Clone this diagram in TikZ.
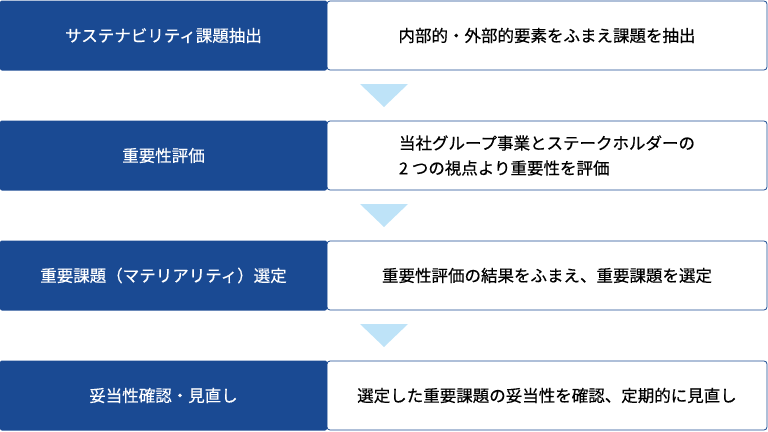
\documentclass[tikz,border=0pt]{standalone}
\usepackage{fontspec}
\setmainfont[FakeBold=0.5]{Noto Sans CJK JP}
\usetikzlibrary{positioning,calc}

\definecolor{stepblue}{RGB}{26,74,147}
\definecolor{arrowblue}{RGB}{190,227,248}

\begin{document}
\begin{tikzpicture}[x=1pt, y=-1pt,
  head/.style={fill=stepblue, text=white, rounded corners=2pt, minimum width=327pt, minimum height=70pt, inner sep=0pt, font=\fontsize{16.5}{25}\selectfont},
  desc/.style={draw=stepblue, fill=white, line width=0.8pt, rounded corners=3pt, minimum width=440pt, minimum height=69pt, inner sep=0pt, align=left, font=\fontsize{16.5}{25}\selectfont},
  down/.style={fill=arrowblue}]

\useasboundingbox (0,0) rectangle (768,431);

\node[desc] (d1) at (547,35.5) {内部的・外部的要素をふまえ課題を抽出};
\node[head] (h1) at (163.5,35.5) {サステナビリティ課題抽出};

\node[desc] (d2) at (547,155.5) {当社グループ事業とステークホルダーの\\2 つの視点より重要性を評価};
\node[head] (h2) at (163.5,155.5) {重要性評価};

\node[desc] (d3) at (547,275.5) {重要性評価の結果をふまえ、重要課題を選定};
\node[head] (h3) at (163.5,275.5) {重要課題（マテリアリティ）選定};

\node[desc] (d4) at (547,395.5) {選定した重要課題の妥当性を確認、定期的に見直し};
\node[head] (h4) at (163.5,395.5) {妥当性確認・見直し};

% down arrows between rows
\fill[down] (360,84) -- (408,84) -- (384,107) -- cycle;
\fill[down] (360,204) -- (408,204) -- (384,227) -- cycle;
\fill[down] (360,324) -- (408,324) -- (384,347) -- cycle;

\end{tikzpicture}
\end{document}
